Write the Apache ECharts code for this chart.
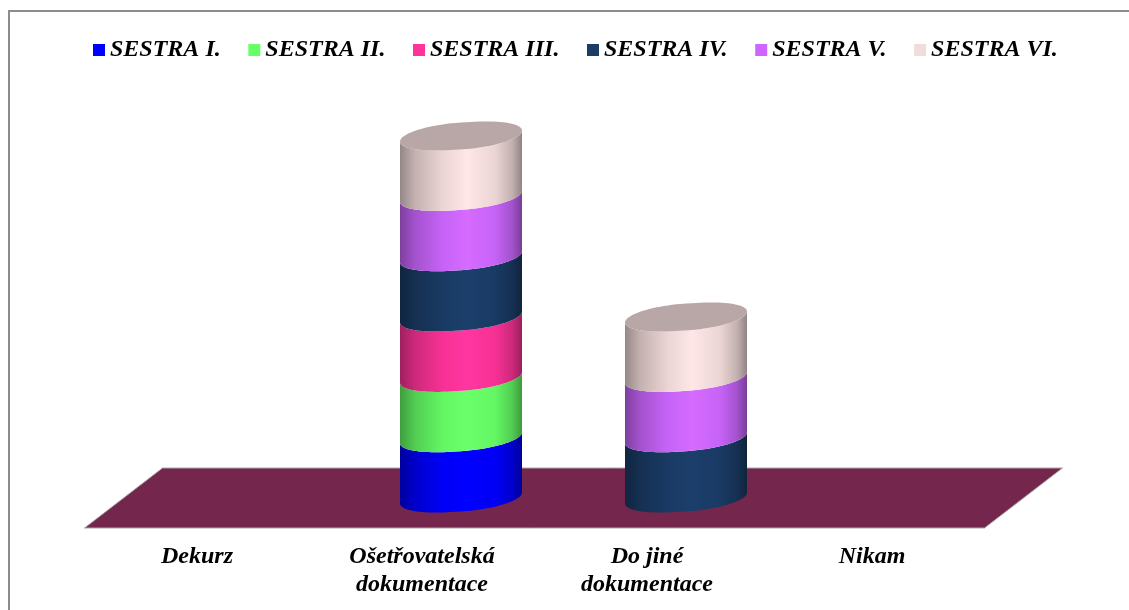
<!DOCTYPE html>
<html>
<head>
<meta charset="utf-8">
<style>html,body{margin:0;padding:0;background:#fff}#chart{width:1129px;height:610px}</style>
<script src="https://cdn.jsdelivr.net/npm/echarts@6/dist/echarts.min.js"></script>
</head>
<body>
<div id="chart"></div>
<script>
// Where each nurse records the information: one stacked unit per answer.
const categories = ['Dekurz', 'Ošetřovatelská\ndokumentace', 'Do jiné\ndokumentace', 'Nikam'];
const seriesNames = ['SESTRA I.', 'SESTRA II.', 'SESTRA III.', 'SESTRA IV.', 'SESTRA V.', 'SESTRA VI.'];
const sestra1 = [0, 1, 0, 0];
const sestra2 = [0, 1, 0, 0];
const sestra3 = [0, 1, 0, 0];
const sestra4 = [0, 1, 1, 0];
const sestra5 = [0, 1, 1, 0];
const sestra6 = [0, 1, 1, 0];
const seriesValues = [sestra1, sestra2, sestra3, sestra4, sestra5, sestra6];
const seriesColors = ['#0000ff', '#66ff66', '#ff3399', '#1a3c66', '#cc66ff', '#f2dcdb'];

const FONT = '"Liberation Serif", "Times New Roman", serif';
const FLOOR_DEPTH_X = 39;   // half of the floor's sideways shear
const FLOOR_DEPTH_Y = 30;   // half of the floor's depth on screen
const CYL_HALF_W = 61;
const CYL_TILT = 5.5;       // how far the ellipse's right end rises
const CYL_RY = 13.5;
const CYL_ROUND = 0.9;      // below 1 blunts the ellipse's tips

function shade(hex, k) {
  const n = parseInt(hex.slice(1), 16);
  const c = [n >> 16, (n >> 8) & 255, n & 255].map(v => Math.min(255, Math.round(v * k)));
  return 'rgb(' + c.join(',') + ')';
}

function ellipsePoint(cx, cy, t) {
  const c = Math.cos(t);
  const blunt = Math.sign(c) * Math.pow(Math.abs(c), CYL_ROUND);
  return [cx + CYL_HALF_W * blunt, cy - CYL_TILT * c + CYL_RY * Math.sin(t)];
}
// Front half of the tilted ellipse, left to right.
function frontArc(cx, cy) {
  const pts = [];
  for (let i = 0; i <= 48; i++) pts.push(ellipsePoint(cx, cy, Math.PI - Math.PI * i / 48));
  return pts;
}
// Back half of the same ellipse, right to left.
function backArc(cx, cy) {
  const pts = [];
  for (let i = 0; i <= 48; i++) pts.push(ellipsePoint(cx, cy, -Math.PI * i / 48));
  return pts;
}

function sideFill(color, cx) {
  return {
    type: 'linear', global: true,
    x: cx - CYL_HALF_W, y: 0, x2: cx + CYL_HALF_W, y2: 0,
    colorStops: [
      { offset: 0, color: shade(color, 0.62) },
      { offset: 0.12, color: shade(color, 0.8) },
      { offset: 0.35, color: shade(color, 0.97) },
      { offset: 0.55, color: shade(color, 1.05) },
      { offset: 0.78, color: shade(color, 0.97) },
      { offset: 0.92, color: shade(color, 0.8) },
      { offset: 1, color: shade(color, 0.6) }
    ]
  };
}

function stackedBelow(seriesIndex, cat) {
  let sum = 0;
  for (let i = 0; i < seriesIndex; i++) sum += seriesValues[i][cat];
  return sum;
}
function isTopOfStack(seriesIndex, cat) {
  for (let i = seriesIndex + 1; i < seriesValues.length; i++) {
    if (seriesValues[i][cat] > 0) return false;
  }
  return true;
}

function renderSegment(seriesIndex, params, api) {
  const cat = api.value(0);
  const val = api.value(1);
  if (!val) return null;
  const base = stackedBelow(seriesIndex, cat);
  const low = api.coord([cat, base]);
  const high = api.coord([cat, base + val]);
  const color = seriesColors[seriesIndex];
  const lower = frontArc(low[0], low[1]);
  const upper = frontArc(high[0], high[1]).reverse();
  const children = [{
    type: 'polygon',
    shape: { points: lower.concat(upper) },
    style: { fill: sideFill(color, low[0]) }
  }];
  if (isTopOfStack(seriesIndex, cat)) {
    children.push({
      type: 'polygon',
      shape: { points: frontArc(high[0], high[1]).concat(backArc(high[0], high[1])) },
      style: { fill: shade(color, 0.76) }
    });
  }
  return { type: 'group', children };
}

// Sheared floor under the plot, spanning every category band.
function renderFloor(params) {
  const g = params.coordSys;
  const mid = g.y + g.height;
  return {
    type: 'polygon',
    shape: { points: [
      [g.x - FLOOR_DEPTH_X, mid + FLOOR_DEPTH_Y],
      [g.x + g.width - FLOOR_DEPTH_X, mid + FLOOR_DEPTH_Y],
      [g.x + g.width + FLOOR_DEPTH_X, mid - FLOOR_DEPTH_Y],
      [g.x + FLOOR_DEPTH_X, mid - FLOOR_DEPTH_Y]
    ] },
    style: { fill: '#74264c', stroke: '#a8a8a8', lineWidth: 1 }
  };
}

const series = [{
  type: 'custom', silent: true, z: 1, xAxisIndex: 0, yAxisIndex: 0,
  data: [[0, 0]], renderItem: renderFloor, clip: false
}];
seriesNames.forEach((name, si) => {
  series.push({
    name, type: 'custom', z: 2, xAxisIndex: 0, yAxisIndex: 0, clip: false,
    itemStyle: { color: seriesColors[si] },
    encode: { x: 0, y: 1 },
    data: seriesValues[si].map((v, c) => [c, v]),
    renderItem: (p, api) => renderSegment(si, p, api)
  });
});

const chart = echarts.init(document.getElementById('chart'), null, { renderer: 'canvas' });
chart.setOption({
  animation: false,
  backgroundColor: '#ffffff',
  graphic: [{
    type: 'rect', z: 0, silent: true,
    shape: { x: 9, y: 11, width: 1140, height: 620 },
    style: { fill: 'none', stroke: '#8c8c8c', lineWidth: 2 }
  }],
  legend: {
    data: seriesNames, top: 33, left: 88, icon: 'rect',
    itemWidth: 12, itemHeight: 12, itemGap: 27.6,
    textStyle: { fontFamily: FONT, fontStyle: 'italic', fontWeight: 'bold', fontSize: 24, color: '#000' }
  },
  grid: [
    { left: 123.5, top: 136, width: 900, height: 362 },
    { left: 84.5, top: 166, width: 900, height: 362 }
  ],
  xAxis: [
    { type: 'category', gridIndex: 0, data: categories, axisLine: { show: false }, axisTick: { show: false }, axisLabel: { show: false } },
    { type: 'category', gridIndex: 1, data: categories, axisLine: { show: false }, axisTick: { show: false },
      axisLabel: { interval: 0, margin: 15, color: '#000', fontFamily: FONT, fontStyle: 'italic', fontWeight: 'bold', fontSize: 24, lineHeight: 28 } }
  ],
  yAxis: [
    { type: 'value', gridIndex: 0, min: 0, max: 6, interval: 1, show: false },
    { type: 'value', gridIndex: 1, min: 0, max: 6, interval: 1, show: false }
  ],
  series
});
</script>
</body>
</html>
